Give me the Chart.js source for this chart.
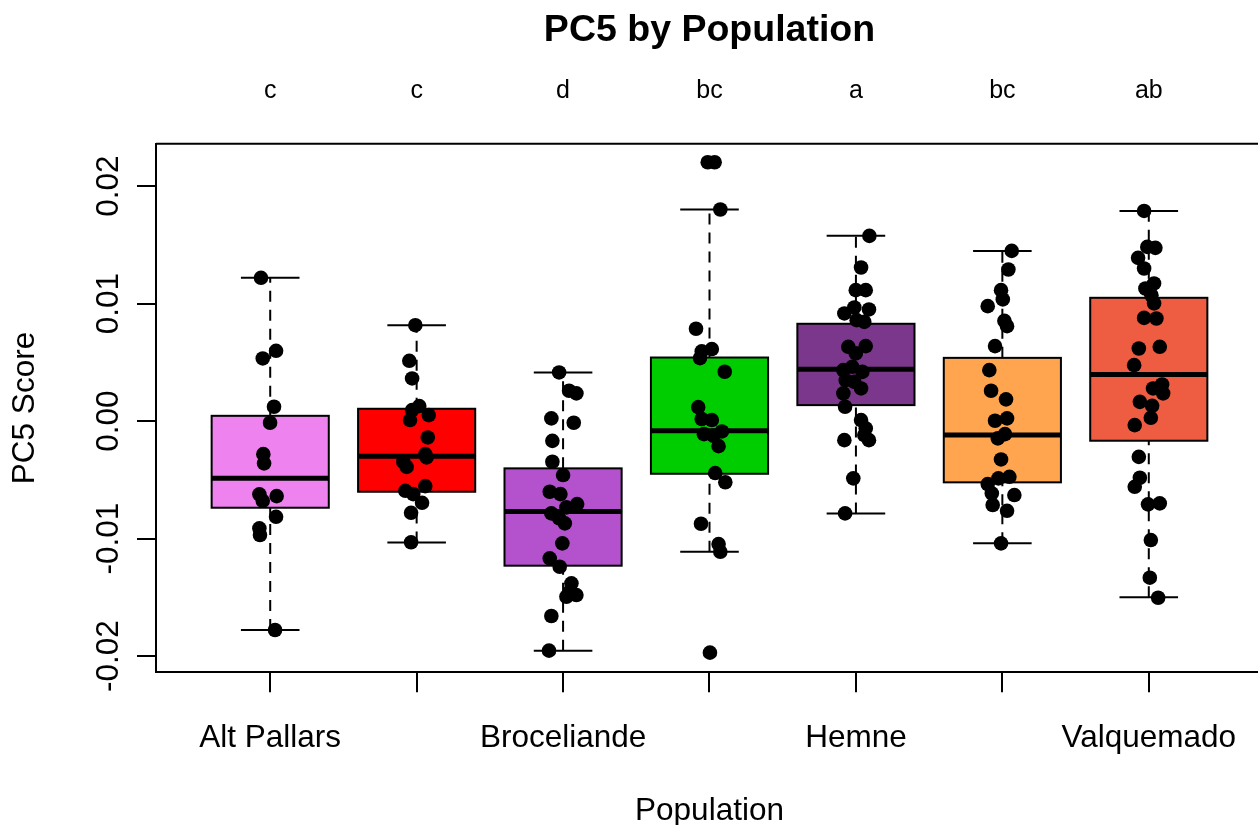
<!DOCTYPE html>
<html>
<head>
<meta charset="utf-8">
<script src="https://cdn.jsdelivr.net/npm/chart.js@4.4.1/dist/chart.umd.min.js"></script>
<style>
html,body{margin:0;padding:0;background:#fff;overflow:hidden;}
canvas{display:block;}
</style>
</head>
<body>
<canvas id="c" width="1280" height="825"></canvas>
<script>
// ---------- data ----------
// (R hid every other axis label because they overlapped; hidden names unknown)
const categories = ["Alt Pallars", "", "Broceliande", "", "Hemne", "", "Valquemado"];
const sigLetters = ["c", "c", "d", "bc", "a", "bc", "ab"];
const boxColors = ["#EE82EE", "#FF0000", "#B452CD", "#00CD00", "#7A378B", "#FFA54F", "#EE5C42"];

const whiskerHigh = [0.01219, 0.00816, 0.00414, 0.01800, 0.01576, 0.01448, 0.01788];
const upperHinge  = [0.00045, 0.00105, -0.00402, 0.00541, 0.00828, 0.00538, 0.01049];
const medians     = [-0.00487, -0.00298, -0.00768, -0.00083, 0.00442, -0.00119, 0.00397];
const lowerHinge  = [-0.00737, -0.00601, -0.01230, -0.00448, 0.00136, -0.00521, -0.00167];
const whiskerLow  = [-0.01777, -0.01032, -0.01953, -0.01112, -0.00785, -0.01040, -0.01499];

const yTickValues = [-0.02, -0.01, 0, 0.01, 0.02];
const yTickLabels = ["-0.02", "-0.01", "0.00", "0.01", "0.02"];

// individual scores and their horizontal jitter (in category units), per population
const scoresG1 = [0.01219, 0.00598, 0.00533, 0.00122, -0.00014, -0.00281, -0.00360, -0.00623, -0.00638, -0.00678, -0.00814, -0.00912, -0.00969, -0.01777];
const jitterG1 = [-0.063, 0.040, -0.051, 0.026, -0.001, -0.047, -0.042, -0.074, 0.044, -0.051, 0.040, -0.074, -0.070, 0.033];

const scoresG2 = [0.00816, 0.00513, 0.00363, 0.00128, 0.00094, 0.00051, 0.00009, -0.00139, -0.00281, -0.00309, -0.00346, -0.00389, -0.00553, -0.00593, -0.00621, -0.00695, -0.00780, -0.01031];
const jitterG2 = [-0.009, -0.050, -0.031, 0.018, -0.031, 0.083, -0.045, 0.076, 0.059, 0.068, -0.091, -0.068, 0.059, -0.077, -0.023, 0.037, -0.038, -0.038];

const scoresG3 = [0.00414, 0.00258, 0.00236, 0.00023, -0.00014, -0.00168, -0.00346, -0.00459, -0.00601, -0.00621, -0.00706, -0.00734, -0.00785, -0.00827, -0.00870, -0.01040, -0.01168, -0.01239, -0.01380, -0.01443, -0.01480, -0.01494, -0.01658, -0.01953];
const jitterG3 = [-0.027, 0.041, 0.091, -0.080, 0.073, -0.073, -0.073, 0.000, -0.091, -0.018, 0.096, 0.023, -0.080, -0.027, 0.012, -0.005, -0.091, -0.023, 0.057, 0.050, 0.091, 0.023, -0.080, -0.096];

const scoresG4 = [0.02202, 0.02202, 0.01800, 0.00786, 0.00613, 0.00593, 0.00536, 0.00420, 0.00119, 0.00018, 0.00009, -0.00088, -0.00111, -0.00126, -0.00213, -0.00442, -0.00520, -0.00873, -0.01046, -0.01112, -0.01970];
const jitterG4 = [-0.012, 0.035, 0.074, -0.092, 0.016, -0.053, -0.065, 0.104, -0.077, -0.053, 0.016, 0.085, -0.038, 0.027, 0.062, 0.039, 0.108, -0.058, 0.062, 0.074, 0.003];

const scoresG5 = [0.01576, 0.01307, 0.01114, 0.01114, 0.00916, 0.00967, 0.00950, 0.00859, 0.00844, 0.00632, 0.00638, 0.00576, 0.00434, 0.00462, 0.00419, 0.00349, 0.00334, 0.00278, 0.00236, 0.00122, 0.00009, -0.00062, -0.00119, -0.00162, -0.00162, -0.00487, -0.00785];
const jitterG5 = [0.092, 0.035, -0.001, 0.067, -0.079, -0.011, 0.089, 0.005, 0.057, -0.052, 0.067, -0.001, -0.086, -0.025, 0.044, -0.070, -0.011, 0.035, -0.086, -0.074, 0.035, 0.067, 0.057, 0.089, -0.079, -0.018, -0.074];

const scoresG6 = [0.01448, 0.01290, 0.01114, 0.01035, 0.00978, 0.00853, 0.00808, 0.00638, 0.00434, 0.00258, 0.00185, 0.00003, 0.00023, -0.00147, -0.00111, -0.00326, -0.00474, -0.00487, -0.00536, -0.00615, -0.00629, -0.00714, -0.00763, -0.01040];
const jitterG6 = [0.064, 0.041, -0.009, 0.003, -0.100, 0.014, 0.032, -0.050, -0.089, -0.077, 0.025, -0.050, 0.032, -0.031, 0.018, -0.009, 0.048, -0.027, -0.100, -0.072, 0.082, -0.066, 0.032, -0.009];

const scoresG7 = [0.01788, 0.01482, 0.01474, 0.01389, 0.01298, 0.01171, 0.01128, 0.01071, 0.01001, 0.00878, 0.00873, 0.00618, 0.00632, 0.00476, 0.00312, 0.00278, 0.00236, 0.00164, 0.00130, 0.00028, -0.00034, -0.00304, -0.00482, -0.00559, -0.00708, -0.00700, -0.01012, -0.01332, -0.01503];
const jitterG7 = [-0.032, -0.010, 0.045, -0.073, -0.032, 0.036, -0.023, 0.018, 0.036, -0.032, 0.052, -0.068, 0.075, -0.100, 0.091, 0.029, 0.098, -0.061, 0.023, 0.014, -0.096, -0.068, -0.061, -0.096, -0.005, 0.075, 0.014, 0.007, 0.064];

const groupScores = [scoresG1, scoresG2, scoresG3, scoresG4, scoresG5, scoresG6, scoresG7];
const groupJitter = [jitterG1, jitterG2, jitterG3, jitterG4, jitterG5, jitterG6, jitterG7];

// ---------- build ----------
const FONT = "'Liberation Sans', Arial, Helvetica, sans-serif";
const AXIS_SIZE = 31.5;

const points = [];
groupScores.forEach((arr, g) => {
  arr.forEach((v, k) => points.push({ x: g + 1 + groupJitter[g][k], y: v }));
});

const boxPlugin = {
  id: 'rBoxes',
  beforeDatasetsDraw(chart) {
    const { ctx, chartArea, scales: { x, y } } = chart;
    ctx.save();
    ctx.strokeStyle = '#000';
    const seg = (x1, y1, x2, y2) => { ctx.beginPath(); ctx.moveTo(x1, y1); ctx.lineTo(x2, y2); ctx.stroke(); };
    for (let i = 0; i < categories.length; i++) {
      const cx = x.getPixelForValue(i + 1);
      const half = x.getPixelForValue(i + 1.4) - cx;
      const staple = half / 2;
      const yHi = y.getPixelForValue(whiskerHigh[i]);
      const yQ3 = y.getPixelForValue(upperHinge[i]);
      const yMed = y.getPixelForValue(medians[i]);
      const yQ1 = y.getPixelForValue(lowerHinge[i]);
      const yLo = y.getPixelForValue(whiskerLow[i]);
      // whiskers (dashed)
      ctx.lineWidth = 2;
      ctx.setLineDash([11, 8]);
      seg(cx, yLo, cx, yQ1);
      seg(cx, yQ3, cx, yHi);
      ctx.setLineDash([]);
      // staples
      seg(cx - staple, yHi, cx + staple, yHi);
      seg(cx - staple, yLo, cx + staple, yLo);
      // box
      ctx.fillStyle = boxColors[i];
      ctx.fillRect(cx - half, yQ3, 2 * half, yQ1 - yQ3);
      ctx.strokeRect(cx - half, yQ3, 2 * half, yQ1 - yQ3);
      // median
      ctx.lineWidth = 5;
      seg(cx - half, yMed, cx + half, yMed);
    }
    // top and right frame lines
    ctx.lineWidth = 2;
    seg(chartArea.left, chartArea.top, chartArea.right, chartArea.top);
    seg(chartArea.right, chartArea.top, chartArea.right, chartArea.bottom);
    ctx.restore();
  },
  afterDraw(chart) {
    const { ctx, scales: { x, y } } = chart;
    ctx.save();
    ctx.fillStyle = '#000';
    ctx.textBaseline = 'alphabetic';
    ctx.textAlign = 'center';
    // x tick labels
    ctx.font = AXIS_SIZE + 'px ' + FONT;
    categories.forEach((c, i) => { if (c) ctx.fillText(c, x.getPixelForValue(i + 1), 747); });
    // significance letters
    ctx.font = '25px ' + FONT;
    sigLetters.forEach((l, i) => ctx.fillText(l, x.getPixelForValue(i + 1), 98));
    // y tick labels (rotated, as R draws them)
    ctx.font = AXIS_SIZE + 'px ' + FONT;
    yTickValues.forEach((v, i) => {
      ctx.save();
      ctx.translate(118, y.getPixelForValue(v));
      ctx.rotate(-Math.PI / 2);
      ctx.fillText(yTickLabels[i], 0, 0);
      ctx.restore();
    });
    ctx.restore();
  }
};

new Chart(document.getElementById('c'), {
  type: 'scatter',
  data: {
    datasets: [{
      data: points,
      pointRadius: 7.3,
      pointBackgroundColor: '#000',
      pointBorderWidth: 0,
      pointBorderColor: '#000',
      pointHoverRadius: 7.3
    }]
  },
  options: {
    responsive: false,
    animation: false,
    devicePixelRatio: 1,
    events: [],
    layout: { padding: { left: 0, top: 0, right: 17, bottom: 0 } },
    plugins: {
      legend: { display: false },
      tooltip: { enabled: false },
      title: {
        display: true,
        text: 'PC5 by Population',
        fullSize: false,
        color: '#000',
        font: { family: FONT, size: 37.5, weight: 'bold', lineHeight: 1.2 },
        padding: { top: 8.5, bottom: 90.2 }
      }
    },
    scales: {
      x: {
        type: 'linear',
        min: 0.22,
        max: 7.78,
        afterBuildTicks: s => { s.ticks = categories.map((c, i) => ({ value: i + 1 })); },
        afterFit: s => { s.height = 152.7; },
        ticks: { display: false },
        grid: { drawOnChartArea: false, drawTicks: true, tickLength: 20, color: '#000', lineWidth: 2 },
        border: { display: true, color: '#000', width: 2 },
        title: {
          display: true, text: 'Population', color: '#000',
          font: { family: FONT, size: AXIS_SIZE, lineHeight: 0.9 },
          padding: { top: 0, bottom: 0 }
        }
      },
      y: {
        type: 'linear',
        min: -0.02137,
        max: 0.0236,
        afterBuildTicks: s => { s.ticks = yTickValues.map(v => ({ value: v })); },
        afterFit: s => { s.width = 156; },
        ticks: { display: false },
        grid: { drawOnChartArea: false, drawTicks: true, tickLength: 19, color: '#000', lineWidth: 2 },
        border: { display: true, color: '#000', width: 2 },
        title: {
          display: true, text: 'PC5 Score', color: '#000',
          font: { family: FONT, size: AXIS_SIZE, lineHeight: 1.2 },
          padding: { top: 6.1, bottom: 0 }
        }
      }
    }
  },
  plugins: [boxPlugin]
});
</script>
</body>
</html>
